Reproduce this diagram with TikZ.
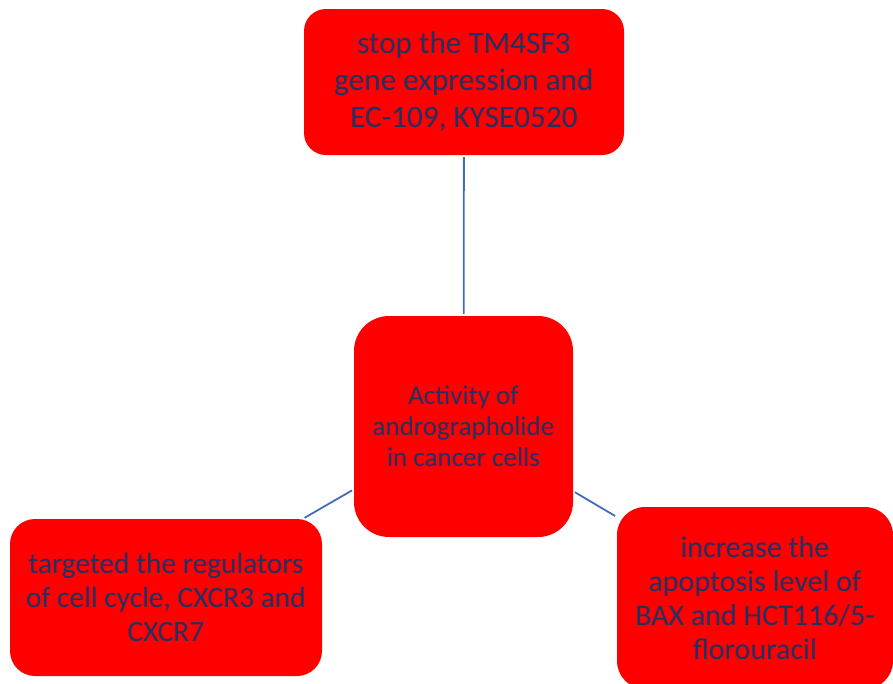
\documentclass[tikz,border=0pt]{standalone}
\usepackage{fontspec}
\setmainfont{Carlito}
\definecolor{boxred}{RGB}{255,0,0}
\definecolor{txtblue}{RGB}{32,50,100}
\definecolor{linkblue}{RGB}{68,108,180}
\begin{document}
\begin{tikzpicture}[x=1pt,y=-1pt,
  redbox/.style={draw=none,fill=boxred,text=txtblue,align=center,inner sep=0pt,rectangle},
  link/.style={draw=linkblue,line width=1.8pt,shorten <=2pt,shorten >=2pt}]
\useasboundingbox (0,0) rectangle (893,683);
\node[redbox,minimum width=320pt,minimum height=146pt,rounded corners=22pt,
  font=\fontsize{31.2}{37}\selectfont] (top) at (464,82)
  {stop the TM4SF3\\gene expression and\\EC-109, KYSE0520};
\node[redbox,minimum width=219pt,minimum height=221pt,rounded corners=35pt,
  font=\fontsize{27}{31}\selectfont] (mid) at (463.5,426.5)
  {Activity of\\andrographolide\\in cancer cells};
\node[redbox,minimum width=312pt,minimum height=157pt,rounded corners=25pt,
  font=\fontsize{29.4}{34}\selectfont] (left) at (166,597.5)
  {targeted the regulators\\of cell cycle, CXCR3 and\\CXCR7};
\node[redbox,minimum width=276pt,minimum height=182pt,rounded corners=28pt,
  font=\fontsize{30}{34}\selectfont] (right) at (755,598)
  {increase the\\apoptosis level of\\BAX and HCT116/5-\\florouracil};
\draw[link] (top) -- (mid);
\draw[link] (mid) -- (left);
\draw[link] (mid) -- (right);
\end{tikzpicture}
\end{document}
